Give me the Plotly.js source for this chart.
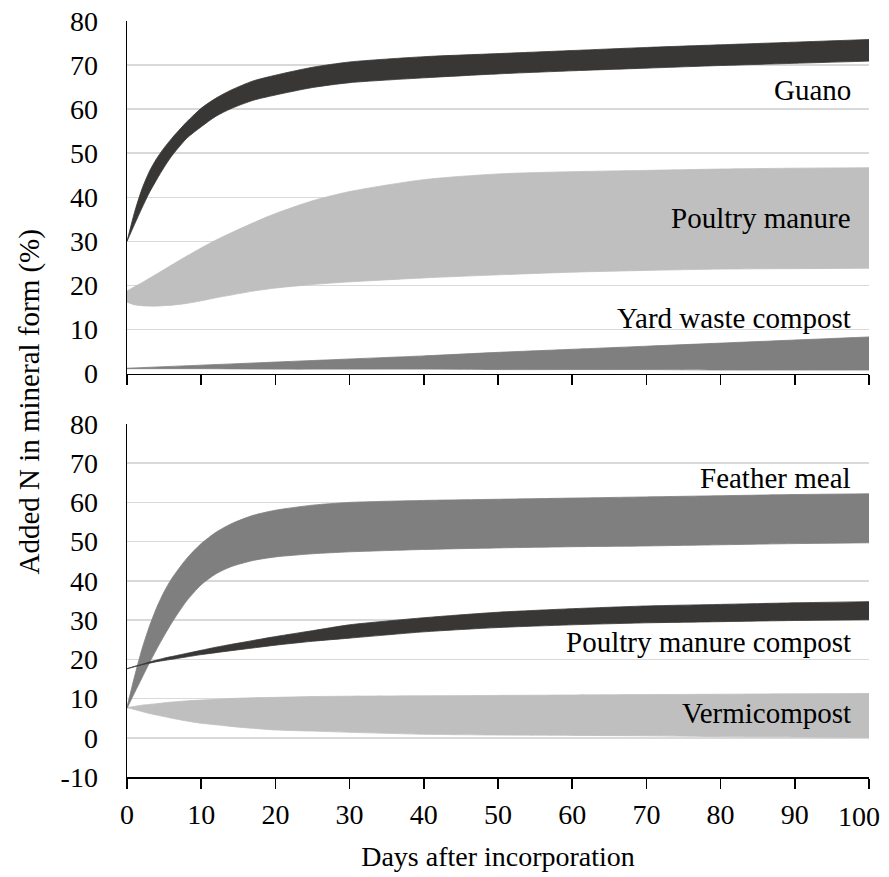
<!DOCTYPE html>
<html>
<head>
<meta charset="utf-8">
<script src="https://cdn.plot.ly/plotly-3.0.1.min.js"></script>
<style>html,body{margin:0;padding:0;background:#fff;}#chart{width:889px;height:877px;}</style>
</head>
<body>
<div id="chart"></div>
<script>
// ---- data ----
const days = [0,1,2,3,4,5,6,8,10,12,14,17,20,25,30,40,50,60,70,80,90,100];

const guanoUpper = [30,36.5,41.8,45.8,48.8,51.2,53.3,57,60.2,62.5,64.3,66.4,67.7,69.5,70.7,71.9,72.6,73.3,74,74.6,75.2,75.8];
const guanoLower = [30,33.8,37.5,41,44,46.8,49.3,53.3,56,58.4,60.1,62,63.2,64.9,66,67.1,68,68.7,69.3,69.9,70.4,70.9];

const poultryUpper = [18.7,19.7,20.6,21.6,22.6,23.6,24.6,26.6,28.5,30.3,31.9,34.2,36.3,39.2,41.3,44,45.3,45.8,46.1,46.4,46.6,46.7];
const poultryLower = [16.2,15.6,15.4,15.3,15.3,15.4,15.5,15.9,16.5,17.2,17.8,18.7,19.4,20.2,20.8,21.7,22.4,23,23.4,23.7,23.8,23.9];

const yardDays  = [0,10,20,30,40,50,60,70,80,90,100];
const yardUpper = [1.2,1.9,2.6,3.3,4.0,4.8,5.5,6.2,6.9,7.6,8.3];
const yardLower = [1.1,1.1,1.0,1.0,1.0,0.9,0.9,0.9,0.8,0.8,0.8];

const featherUpper = [7.8,15.5,22.5,28.3,33.2,37.2,40.5,45.6,49.5,52.4,54.5,56.7,58,59.3,60,60.5,60.8,61.1,61.4,61.7,62,62.2];
const featherLower = [7.5,11.4,15.2,19,22.6,26,29.2,34.8,39,41.8,43.6,45.2,46.1,46.9,47.4,48,48.4,48.7,48.9,49.2,49.5,49.7];

const pmcUpper = [17.6,18.2,18.7,19.3,19.8,20.3,20.7,21.5,22.3,23.1,23.8,24.8,25.8,27.3,28.8,30.6,32,32.9,33.6,34,34.4,34.7];
const pmcLower = [17.6,18.1,18.6,19,19.4,19.7,20.0,20.6,21.2,21.7,22.2,22.9,23.6,24.6,25.4,27,28.1,28.8,29.3,29.6,29.9,30.1];

const vermUpper = [7.7,8,8.3,8.5,8.7,8.9,9.1,9.4,9.6,9.8,10,10.2,10.3,10.5,10.6,10.7,10.8,10.9,11,11.1,11.2,11.3];
const vermLower = [7.7,7.2,6.7,6.2,5.8,5.4,5.0,4.3,3.7,3.3,2.9,2.4,2.0,1.7,1.4,0.9,0.7,0.6,0.5,0.3,0.2,0.1];

const xTicks = [0,10,20,30,40,50,60,70,80,90,100];
const xTickLabels = ['0','10','20','30','40','50','60','70','80','90','100'];
const topYTicks = [0,10,20,30,40,50,60,70,80];
const botYTicks = [-10,0,10,20,30,40,50,60,70,80];
const botYTickText = ['-10','0','10','20','30','40','50','60','70','80'];

const labels = [
  {text:'Guano', axis:'', y:64.3},
  {text:'Poultry manure', axis:'', y:35.3},
  {text:'Yard waste compost', axis:'', y:12.6},
  {text:'Feather meal', axis:'2', y:66.3},
  {text:'Poultry manure compost', axis:'2', y:24.5},
  {text:'Vermicompost', axis:'2', y:6.2}
];

// ---- styling ----
const DARK = '#393736', MID = '#7f7f7f', LIGHT = '#bfbfbf';
const FONT = '"Liberation Serif", "Times New Roman", serif';
const TXT = 28;

function band(x, up, lo, color, ax) {
  const base = {
    x: x, xaxis: 'x' + ax, yaxis: 'y' + ax, mode: 'lines',
    line: {color: color, width: 0.8, shape: 'spline', smoothing: 0.7},
    hoverinfo: 'skip', showlegend: false
  };
  return [
    Object.assign({}, base, {y: lo, fill: 'none'}),
    Object.assign({}, base, {y: up, fill: 'tonexty', fillcolor: color})
  ];
}

const traces = [].concat(
  band(days, poultryUpper, poultryLower, LIGHT, ''),
  band(yardDays, yardUpper, yardLower, MID, ''),
  band(days, guanoUpper, guanoLower, DARK, ''),
  band(days, vermUpper, vermLower, LIGHT, '2'),
  band(days, featherUpper, featherLower, MID, '2'),
  band(days, pmcUpper, pmcLower, DARK, '2')
);

function xAxis(extra) {
  return Object.assign({
    range: [0, 100], tickvals: xTicks, showline: true, linecolor: '#000', linewidth: 1.5,
    ticks: 'outside', ticklen: 10, tickcolor: '#000', tickwidth: 1.5,
    showgrid: false, zeroline: false, fixedrange: true
  }, extra);
}
function yAxis(extra) {
  return Object.assign({
    showline: true, linecolor: '#000', linewidth: 1.5, ticks: '',
    showgrid: true, gridcolor: '#d9d9d9', gridwidth: 1.5, zeroline: false,
    ticklabelstandoff: 22, tickfont: {family: FONT, size: TXT, color: '#000'}, fixedrange: true
  }, extra);
}

// last x tick label is nudged left so it stays inside the picture (as in the original)
const lastIdx = xTickLabels.length - 1;
const xTickText = xTickLabels.map((t, i) => i === lastIdx ? '' : t);

const annotations = labels.map(l => ({
  text: l.text, xref: 'x' + l.axis, yref: 'y' + l.axis, x: 100, y: l.y,
  xanchor: 'right', yanchor: 'middle', xshift: -16, showarrow: false,
  font: {family: FONT, size: 29, color: '#000'}
}));
annotations.push({
  text: xTickLabels[lastIdx], xref: 'x2', yref: 'y2', x: xTicks[lastIdx], y: -10,
  xanchor: 'center', yanchor: 'top', xshift: -10, yshift: -22, showarrow: false,
  font: {family: FONT, size: TXT, color: '#000'}
});
annotations.push({
  text: 'Added N in mineral form (%)', xref: 'paper', yref: 'paper',
  x: -0.1327, y: 0.496, xanchor: 'center', yanchor: 'middle', textangle: -90,
  showarrow: false, font: {family: FONT, size: 29, color: '#000'}
});

const layout = {
  width: 889, height: 877,
  margin: {l: 126.5, r: 20, t: 20.5, b: 99.5},
  paper_bgcolor: '#fff', plot_bgcolor: 'rgba(0,0,0,0)',
  font: {family: FONT, size: TXT, color: '#000'},
  showlegend: false,
  xaxis: xAxis({anchor: 'y', showticklabels: false}),
  yaxis: yAxis({domain: [0.5337, 1], range: [0, 80], tickvals: topYTicks, anchor: 'x'}),
  xaxis2: xAxis({anchor: 'y2', showticklabels: true, ticktext: xTickText,
    tickfont: {family: FONT, size: TXT, color: '#000'}, ticklabelstandoff: 2,
    title: {text: 'Days after incorporation', font: {family: FONT, size: TXT, color: '#000'}, standoff: 17}}),
  yaxis2: yAxis({domain: [0, 0.467], range: [-10, 80], tickvals: botYTicks, ticktext: botYTickText, anchor: 'x2'}),
  annotations: annotations
};

Plotly.newPlot('chart', traces, layout, {displayModeBar: false, staticPlot: true});
</script>
</body>
</html>
